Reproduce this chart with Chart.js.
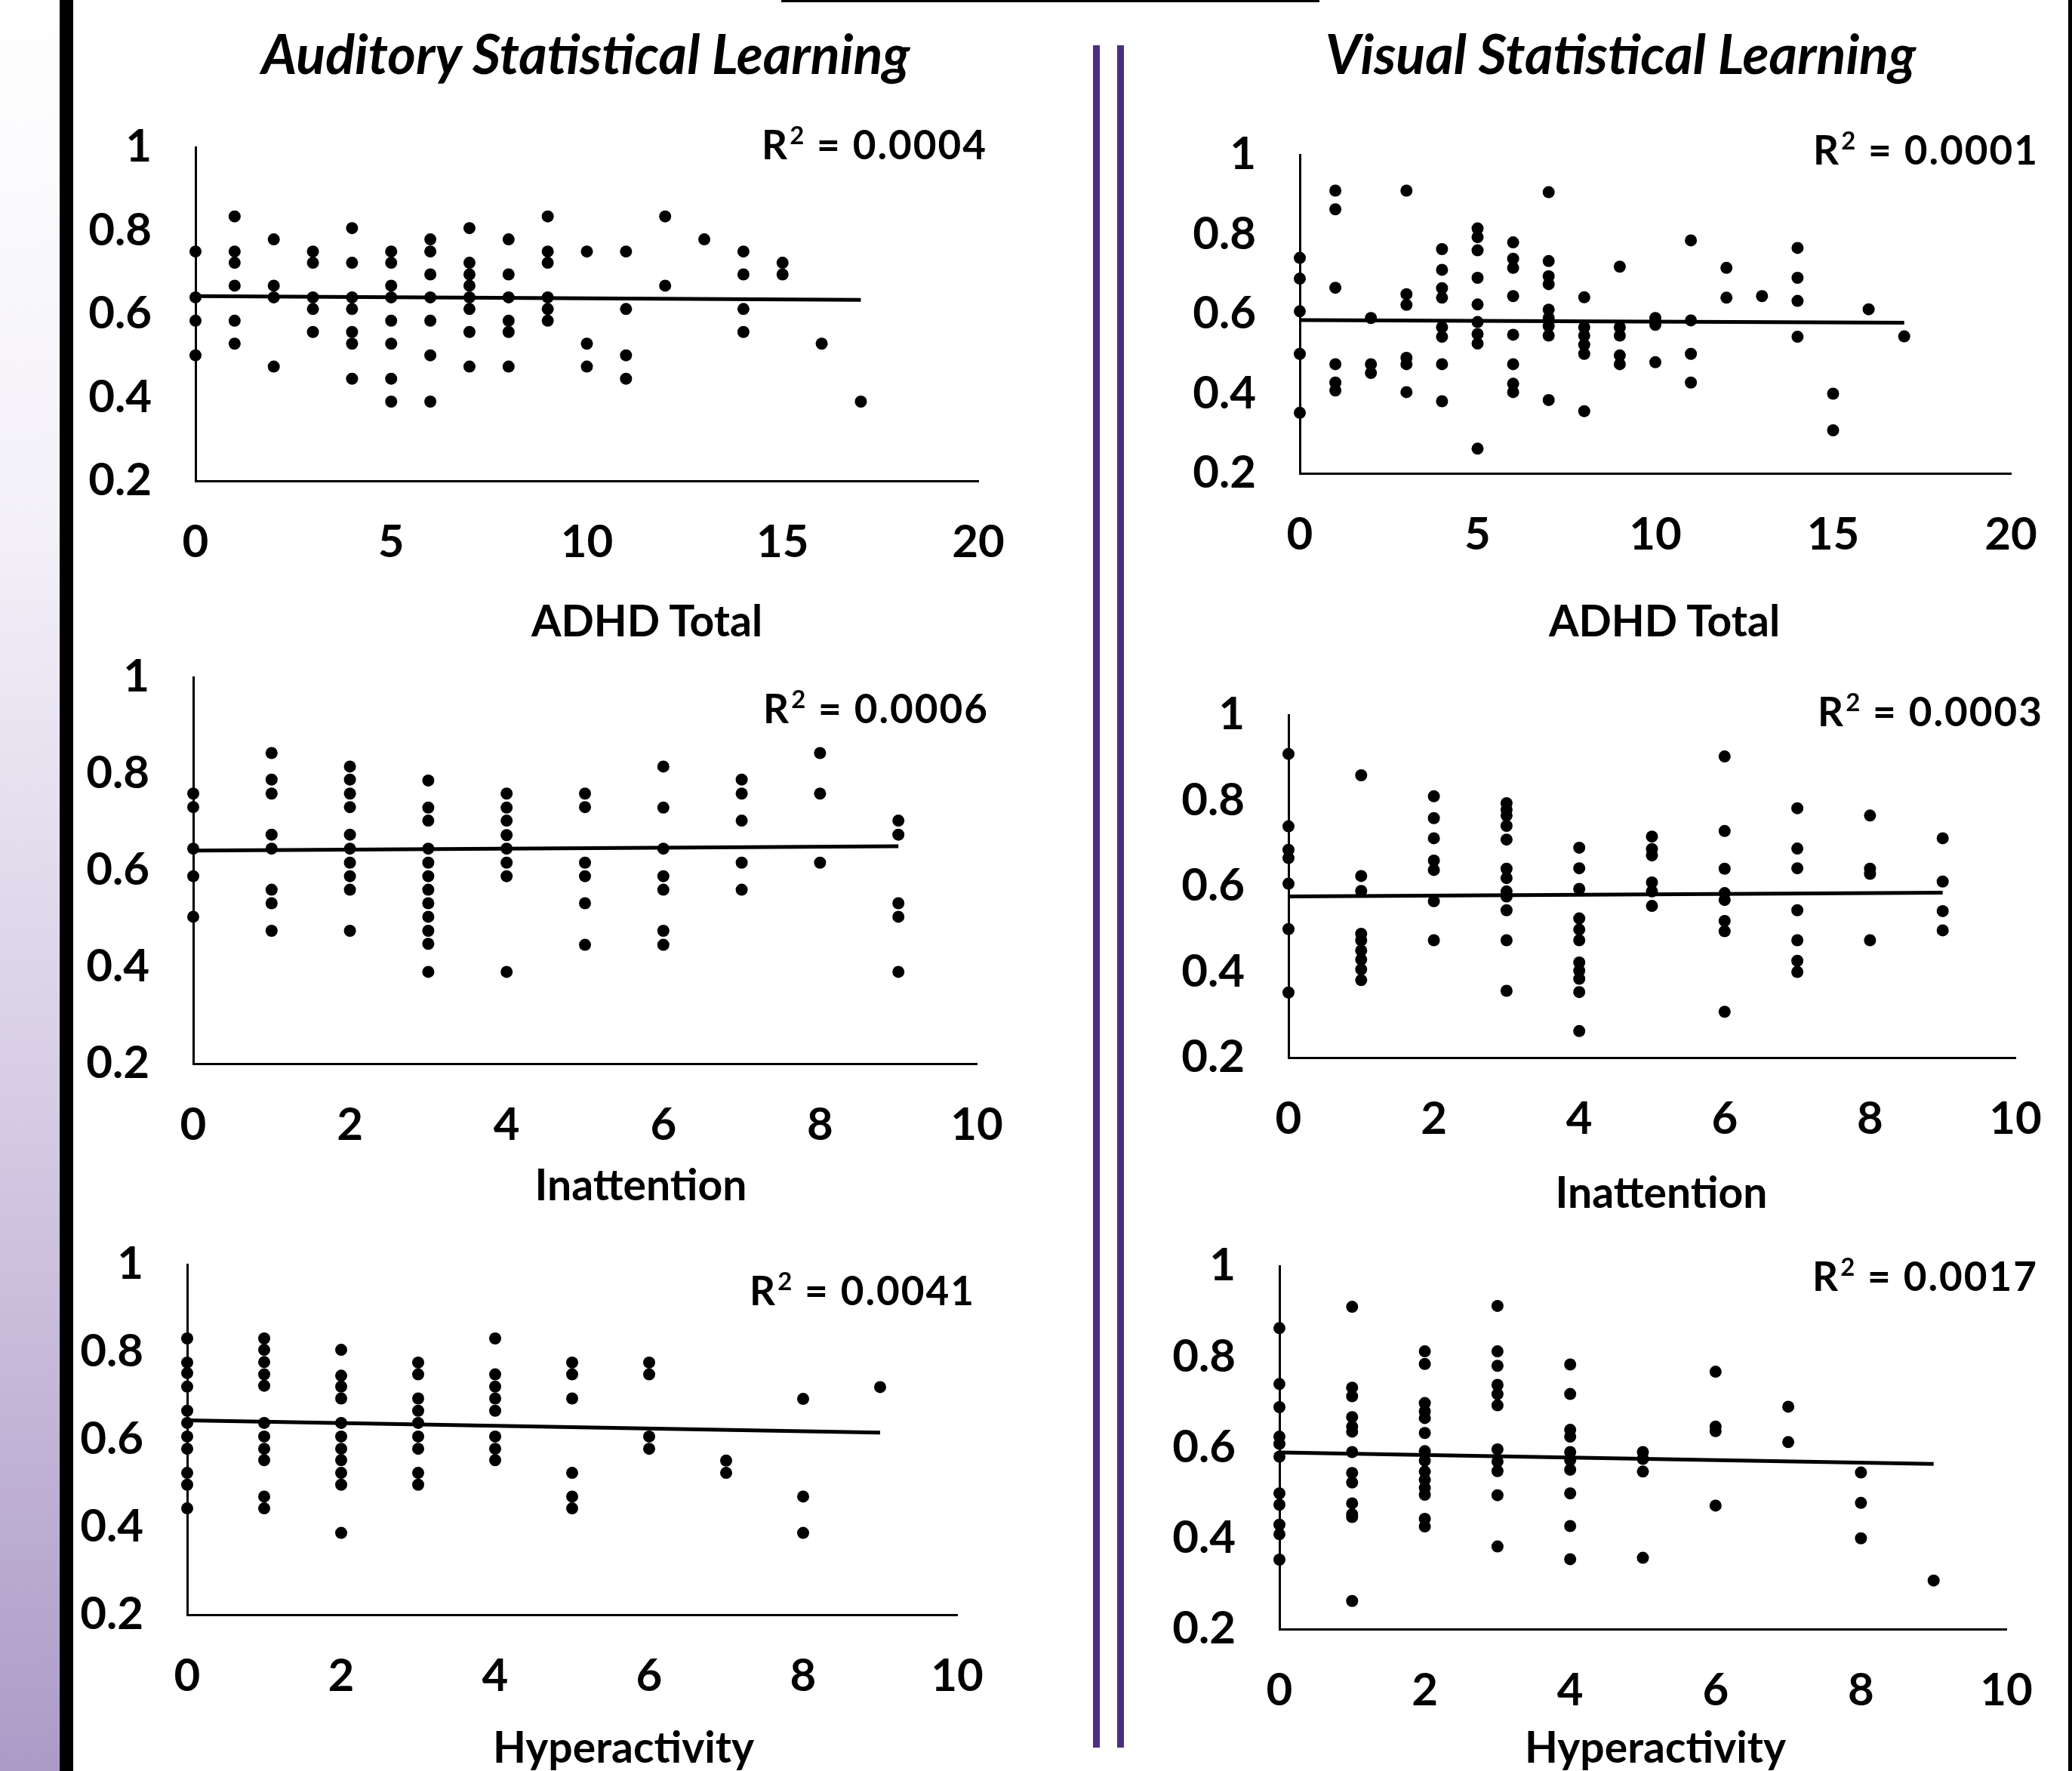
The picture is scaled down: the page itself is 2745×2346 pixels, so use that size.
<!DOCTYPE html>
<html>
<head>
<meta charset="utf-8">
<script src="https://cdn.jsdelivr.net/npm/chart.js@4.4.1/dist/chart.umd.min.js"></script>
<style>
  body { margin: 0; background: #fff; }
  #page { position: relative; width: 2745px; height: 2346px; overflow: hidden; background: #fff;
          font-family: Lato, "Open Sans", sans-serif; color: #000; }
  .strip { position: absolute; left: 0; top: 0; width: 79px; height: 2346px;
           background: linear-gradient(to bottom, #ffffff 0%, #f3f0f8 30%, #d8cfe6 60%, #ad9bc7 100%); }
  .edge { position: absolute; background: #000; }
  .divider { position: absolute; top: 60px; height: 2255px; width: 9px; background: #4b2e83; }
  .title { position: absolute; font-weight: 700; font-style: italic; font-size: 72px; line-height: 1;
           white-space: nowrap; transform: translate(-50%, -50%); }
  .axtitle { position: absolute; font-weight: 700; font-size: 57px; line-height: 1;
             white-space: nowrap; transform: translate(-50%, -50%); }
  .r2 { position: absolute; font-weight: 700; font-size: 53px; line-height: 1; letter-spacing: 2px;
        white-space: nowrap; transform: translateY(-50%); }
  .r2 sup { font-size: 0.62em; line-height: 0; vertical-align: 0.62em; margin-left: 1px; }
  canvas { position: absolute; }
</style>
</head>
<body>
<div id="page">
  <div class="strip"></div>
  <div class="edge" style="left:79px;top:0;width:18px;height:2346px"></div>
  <div class="edge" style="left:2740px;top:0;width:5px;height:2346px"></div>
  <div class="edge" style="left:1035px;top:0;width:713px;height:3px"></div>
  <div class="divider" style="left:1448px"></div>
  <div class="divider" style="left:1480px"></div>
  <div class="title" style="left:776px;top:70px">Auditory Statistical Learning</div>
  <div class="title" style="left:2147px;top:70px">Visual Statistical Learning</div>
</div>
<script>
// x values are the symptom scores 0..n, each inner list holds the SL scores at that x
const totalScores = [0, 1, 2, 3, 4, 5, 6, 7, 8, 9, 10, 11, 12, 13, 14, 15, 16, 17];
const subScores = [0, 1, 2, 3, 4, 5, 6, 7, 8, 9];

const audTotal = [
  [0.750, 0.640, 0.584, 0.501],
  [0.834, 0.750, 0.723, 0.668, 0.584, 0.529],
  [0.779, 0.668, 0.640, 0.474],
  [0.750, 0.723, 0.640, 0.612, 0.557],
  [0.806, 0.723, 0.640, 0.612, 0.557, 0.529, 0.445],
  [0.750, 0.723, 0.668, 0.640, 0.584, 0.529, 0.445, 0.390],
  [0.779, 0.750, 0.695, 0.640, 0.584, 0.501, 0.390],
  [0.806, 0.723, 0.695, 0.668, 0.640, 0.612, 0.557, 0.474],
  [0.779, 0.695, 0.640, 0.584, 0.557, 0.474],
  [0.834, 0.750, 0.723, 0.640, 0.612, 0.584],
  [0.750, 0.529, 0.474],
  [0.750, 0.612, 0.501, 0.445],
  [0.834, 0.668],
  [0.779],
  [0.750, 0.695, 0.612, 0.557],
  [0.723, 0.695],
  [0.529],
  [0.390]
];
const visTotal = [
  [0.741, 0.689, 0.607, 0.500, 0.352],
  [0.910, 0.863, 0.666, 0.474, 0.428, 0.408],
  [0.590, 0.474, 0.452],
  [0.910, 0.650, 0.623, 0.490, 0.474, 0.404],
  [0.763, 0.711, 0.665, 0.641, 0.567, 0.543, 0.474, 0.381],
  [0.815, 0.793, 0.760, 0.691, 0.624, 0.580, 0.550, 0.526, 0.262],
  [0.780, 0.739, 0.716, 0.645, 0.548, 0.474, 0.425, 0.404],
  [0.906, 0.733, 0.695, 0.675, 0.611, 0.590, 0.570, 0.546, 0.384],
  [0.642, 0.567, 0.546, 0.523, 0.500, 0.356],
  [0.719, 0.567, 0.546, 0.496, 0.474],
  [0.590, 0.573, 0.479],
  [0.785, 0.584, 0.500, 0.428],
  [0.716, 0.641],
  [0.645],
  [0.766, 0.691, 0.633, 0.543],
  [0.400, 0.308],
  [0.612],
  [0.544]
];
const audInatt = [
  [0.759, 0.731, 0.645, 0.588, 0.504],
  [0.843, 0.788, 0.759, 0.674, 0.645, 0.560, 0.532, 0.475],
  [0.815, 0.788, 0.759, 0.731, 0.674, 0.645, 0.616, 0.588, 0.560, 0.475],
  [0.786, 0.730, 0.703, 0.645, 0.616, 0.588, 0.560, 0.532, 0.504, 0.475, 0.448, 0.390],
  [0.759, 0.730, 0.703, 0.673, 0.645, 0.616, 0.588, 0.390],
  [0.759, 0.731, 0.616, 0.588, 0.532, 0.446],
  [0.815, 0.730, 0.645, 0.588, 0.560, 0.475, 0.446],
  [0.788, 0.759, 0.703, 0.616, 0.560],
  [0.843, 0.759, 0.616],
  [0.703, 0.674, 0.532, 0.504, 0.390]
];
const visInatt = [
  [0.909, 0.740, 0.685, 0.666, 0.606, 0.500, 0.352],
  [0.859, 0.624, 0.589, 0.489, 0.474, 0.450, 0.429, 0.406, 0.381],
  [0.810, 0.759, 0.712, 0.660, 0.638, 0.565, 0.474],
  [0.794, 0.779, 0.765, 0.741, 0.709, 0.641, 0.619, 0.588, 0.576, 0.544, 0.474, 0.356],
  [0.690, 0.642, 0.594, 0.525, 0.499, 0.474, 0.422, 0.403, 0.384, 0.353, 0.262],
  [0.716, 0.687, 0.672, 0.609, 0.588, 0.554],
  [0.903, 0.729, 0.641, 0.584, 0.568, 0.519, 0.495, 0.307],
  [0.782, 0.688, 0.642, 0.544, 0.474, 0.426, 0.400],
  [0.765, 0.641, 0.629, 0.474],
  [0.712, 0.611, 0.542, 0.497]
];
const audHyper = [
  [0.831, 0.776, 0.752, 0.721, 0.666, 0.638, 0.607, 0.579, 0.524, 0.497, 0.443],
  [0.831, 0.805, 0.777, 0.749, 0.723, 0.638, 0.607, 0.579, 0.553, 0.470, 0.443],
  [0.805, 0.746, 0.721, 0.694, 0.638, 0.607, 0.579, 0.553, 0.524, 0.497, 0.387],
  [0.776, 0.749, 0.694, 0.666, 0.638, 0.607, 0.579, 0.524, 0.497],
  [0.831, 0.749, 0.721, 0.694, 0.666, 0.607, 0.579, 0.553],
  [0.776, 0.749, 0.694, 0.524, 0.470, 0.443],
  [0.776, 0.749, 0.607, 0.579],
  [0.552, 0.524],
  [0.693, 0.470, 0.387],
  [0.720]
];
const visHyper = [
  [0.863, 0.740, 0.689, 0.624, 0.608, 0.580, 0.499, 0.474, 0.430, 0.409, 0.353],
  [0.910, 0.732, 0.713, 0.667, 0.646, 0.635, 0.590, 0.544, 0.523, 0.477, 0.453, 0.447, 0.262],
  [0.812, 0.784, 0.698, 0.680, 0.665, 0.632, 0.592, 0.571, 0.547, 0.529, 0.511, 0.496, 0.443, 0.426],
  [0.912, 0.812, 0.780, 0.738, 0.718, 0.693, 0.596, 0.569, 0.548, 0.495, 0.382],
  [0.783, 0.718, 0.639, 0.624, 0.590, 0.572, 0.551, 0.499, 0.427, 0.354],
  [0.590, 0.575, 0.547, 0.357],
  [0.767, 0.646, 0.636, 0.472],
  [0.690, 0.612],
  [0.545, 0.478, 0.400],
  [0.307]
];

// linear trendlines (start, end)
const audTotalTrend = [0.643, 0.634];
const visTotalTrend = [0.585, 0.578];
const audInattTrend = [0.641, 0.650];
const visInattTrend = [0.576, 0.585];
const audHyperTrend = [0.644, 0.616];
const visHyperTrend = [0.589, 0.564];

const r2Values = ['0.0004', '0.0001', '0.0006', '0.0003', '0.0041', '0.0017'];
const axisTitles = ['ADHD Total', 'ADHD Total', 'Inattention', 'Inattention', 'Hyperactivity', 'Hyperactivity'];
const yTicks = [0.2, 0.4, 0.6, 0.8, 1];

const panels = [
  { xs: totalScores, ys: audTotal, trend: audTotalTrend, xMax: 20, step: 5 },
  { xs: totalScores, ys: visTotal, trend: visTotalTrend, xMax: 20, step: 5 },
  { xs: subScores, ys: audInatt, trend: audInattTrend, xMax: 10, step: 2 },
  { xs: subScores, ys: visInatt, trend: visInattTrend, xMax: 10, step: 2 },
  { xs: subScores, ys: audHyper, trend: audHyperTrend, xMax: 10, step: 2 },
  { xs: subScores, ys: visHyper, trend: visHyperTrend, xMax: 10, step: 2 }
];

// plot area boxes on the page, plus where the R² and axis title sit
const layout = [
  { l: 259, r: 1296, t: 195, b: 637, r2x: 1308, r2y: 190, tx: 857, ty: 821 },
  { l: 1722, r: 2664, t: 205, b: 627, r2x: 2701, r2y: 197, tx: 2205, ty: 821 },
  { l: 256, r: 1294, t: 897, b: 1409, r2x: 1310, r2y: 937, tx: 849, ty: 1568 },
  { l: 1707, r: 2670, t: 947, b: 1401, r2x: 2707, r2y: 941, tx: 2201, ty: 1578 },
  { l: 248, r: 1268, t: 1675, b: 2139, r2x: 1292, r2y: 1708, tx: 826, ty: 2313 },
  { l: 1695, r: 2658, t: 1677, b: 2158, r2x: 2700, r2y: 1689, tx: 2193, ty: 2313 }
];

// scale padding is added on top of label overflow by chart.js, so leave room
const Y_W = 200, PAD_T = 120, PAD_R = 120, X_H = 130;
const tickFont = { family: 'Lato', size: 60, weight: 'bold' };
const page = document.getElementById('page');

function makePanel(i) {
  const p = panels[i], box = layout[i];

  let canvas = document.createElement('canvas');
  let w = box.r - box.l + Y_W + PAD_R;
  let h = box.b - box.t + PAD_T + X_H;
  canvas.width = w;
  canvas.height = h;
  canvas.style.left = (box.l - Y_W) + 'px';
  canvas.style.top = (box.t - PAD_T) + 'px';
  canvas.style.width = w + 'px';
  canvas.style.height = h + 'px';
  page.appendChild(canvas);

  let points = [];
  p.ys.forEach((col, k) => {
    col.forEach(v => points.push({ x: p.xs[k], y: v }));
  });
  let lastX = p.xs[p.xs.length - 1];
  let trendPoints = [{ x: 0, y: p.trend[0] }, { x: lastX, y: p.trend[1] }];

  new Chart(canvas, {
    type: 'scatter',
    data: {
      datasets: [{
        data: points,
        pointRadius: 8,
        pointBackgroundColor: '#000',
        pointBorderWidth: 0,
        clip: false
      }, {
        type: 'line',
        data: trendPoints,
        borderColor: '#000',
        borderWidth: 5,
        pointRadius: 0,
        fill: false,
        clip: false
      }]
    },
    options: {
      responsive: false,
      animation: false,
      devicePixelRatio: 1,
      layout: { padding: { top: PAD_T, right: PAD_R, left: 0, bottom: 0 } },
      plugins: { legend: { display: false }, tooltip: { enabled: false } },
      scales: {
        x: {
          type: 'linear', min: 0, max: p.xMax,
          grid: { display: false, drawTicks: false },
          border: { color: '#000', width: 3 },
          ticks: { stepSize: p.step, padding: 46, color: '#000', font: tickFont, maxRotation: 0 },
          afterFit: s => { s.height = X_H; }
        },
        y: {
          type: 'linear', min: yTicks[0], max: yTicks[yTicks.length - 1],
          grid: { display: false, drawTicks: false },
          border: { color: '#000', width: 3 },
          ticks: {
            stepSize: 0.2, padding: 58, color: '#000', font: tickFont,
            callback: v => String(Number(v.toFixed(1)))
          },
          afterFit: s => { s.width = Y_W; }
        }
      }
    }
  });

  let r2 = document.createElement('div');
  r2.className = 'r2';
  r2.innerHTML = 'R<sup>2</sup> = ' + r2Values[i];
  r2.style.right = (2745 - box.r2x) + 'px';
  r2.style.top = box.r2y + 'px';
  page.appendChild(r2);

  let title = document.createElement('div');
  title.className = 'axtitle';
  title.textContent = axisTitles[i];
  title.style.left = box.tx + 'px';
  title.style.top = box.ty + 'px';
  page.appendChild(title);
}

document.fonts.load('bold 60px Lato').then(() => {
  for (let i = 0; i < panels.length; i++) {
    makePanel(i);
  }
});
</script>
</body>
</html>
